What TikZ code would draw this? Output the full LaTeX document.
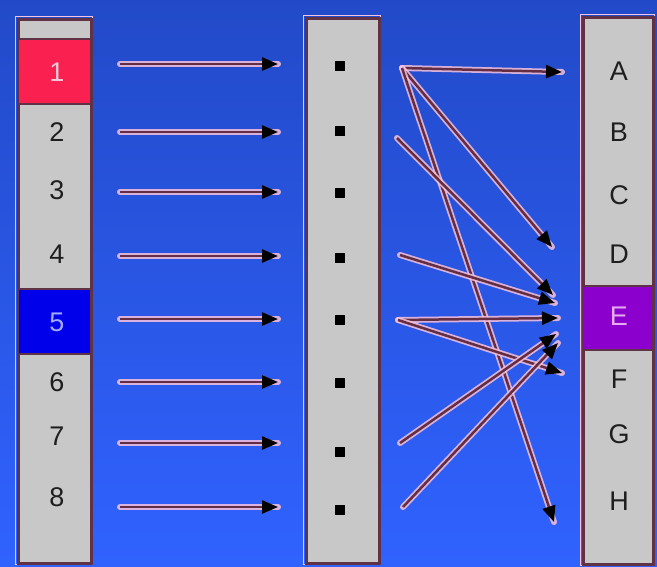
\documentclass[tikz,border=0pt]{standalone}
\usepackage{fontspec}
\setmainfont{Liberation Sans}
\usetikzlibrary{arrows.meta}
\definecolor{bgtop}{RGB}{34,74,200}
\definecolor{bgbot}{RGB}{48,98,255}
\definecolor{cellgray}{RGB}{200,200,200}
\definecolor{framecol}{RGB}{95,50,70}
\definecolor{halo}{RGB}{248,195,220}
\definecolor{redcell}{RGB}{250,32,80}
\definecolor{bluecell}{RGB}{0,0,235}
\definecolor{purplecell}{RGB}{140,0,205}
\definecolor{arrowline}{RGB}{100,45,65}
\definecolor{labdark}{RGB}{30,30,30}
\definecolor{labred}{RGB}{245,200,215}
\definecolor{labblue}{RGB}{160,170,255}
\definecolor{labpurple}{RGB}{230,170,240}
\newcommand\myarrow[2]{\draw[haloline] (#1) -- (#2); \draw[arr] (#1) -- (#2);}
\begin{document}
\begin{tikzpicture}[x=1pt,y=-1pt,
  colbox/.style={draw=framecol, line width=2.5pt, fill=cellgray, anchor=north west, inner sep=0pt},
  colhalo/.style={draw=halo, line width=1pt},
  cellbox/.style={draw=framecol, line width=2pt, anchor=north west, inner sep=0pt},
  lab/.style={font=\fontsize{27}{27}\selectfont, text=labdark, inner sep=0pt},
  dotsq/.style={fill=black, minimum size=10pt, inner sep=0pt},
  arr/.style={draw=arrowline, line width=2.5pt, -{Triangle[length=16pt,width=13pt,color=black]}},
  haloline/.style={draw=halo, line width=6pt, opacity=0.85, line cap=round}
]
\useasboundingbox (0,0) rectangle (657,566);
\shade[top color=bgtop, bottom color=bgbot] (0,0) rectangle (657,566);

% columns
\draw[colhalo] (15,16) rectangle (92,564);
\node[colbox, minimum width=73pt, minimum height=544pt] (L) at (17,18) {};
\draw[colhalo] (303,15) rectangle (380,564);
\node[colbox, minimum width=73pt, minimum height=545pt] (M) at (305,17) {};
\draw[colhalo] (580,14) rectangle (654,565);
\node[colbox, minimum width=70pt, minimum height=547pt] (R) at (582,16) {};

% highlighted cells
\node[cellbox, fill=redcell, minimum width=73pt, minimum height=65pt] (Lred) at (17,38) {};
\node[cellbox, fill=bluecell, minimum width=73pt, minimum height=65pt] (Lblue) at (17,288) {};
\node[cellbox, fill=purplecell, minimum width=70pt, minimum height=64pt] (Rpurple) at (582,285) {};

% left labels
\node[lab, text=labred] (n1) at (57,72) {1};
\node[lab] (n2) at (57,132) {2};
\node[lab] (n3) at (57,190) {3};
\node[lab] (n4) at (57,254) {4};
\node[lab, text=labblue] (n5) at (57,322) {5};
\node[lab] (n6) at (57,382) {6};
\node[lab] (n7) at (57,436) {7};
\node[lab] (n8) at (57,497) {8};

% right labels
\node[lab] (rA) at (619,71) {A};
\node[lab] (rB) at (619,132) {B};
\node[lab] (rC) at (619,195) {C};
\node[lab] (rD) at (619,254) {D};
\node[lab, text=labpurple] (rE) at (619,316) {E};
\node[lab] (rF) at (619,379) {F};
\node[lab] (rG) at (619,434) {G};
\node[lab] (rH) at (619,501) {H};

% middle dots
\node[dotsq] (d1) at (340,66) {};
\node[dotsq] (d2) at (340,131) {};
\node[dotsq] (d3) at (340,193) {};
\node[dotsq] (d4) at (340,258) {};
\node[dotsq] (d5) at (340,320) {};
\node[dotsq] (d6) at (340,383) {};
\node[dotsq] (d7) at (340,452) {};
\node[dotsq] (d8) at (340,510) {};

% left-to-middle arrows
\foreach \i/\y in {1/64,2/132,3/192,4/256,5/319,6/382,7/443,8/507}{
  \coordinate (p\i) at (120,\y);
  \coordinate (q\i) at (278,\y);
  \myarrow{p\i}{q\i}
}

% middle-to-right arrows
\coordinate (s1) at (402,68);
\coordinate (s2) at (397,138);
\coordinate (s4) at (400,255);
\coordinate (s5) at (398,320);
\coordinate (s7) at (400,443);
\coordinate (s8) at (403,507);
\coordinate (tA) at (562,72);
\coordinate (tD) at (552,247);
\coordinate (tH) at (554,522);
\coordinate (tE1) at (553,295);
\coordinate (tE2) at (555,303);
\coordinate (tE3) at (558,318);
\coordinate (tF) at (562,373);
\coordinate (tE4) at (556,334);
\coordinate (tE5) at (558,343);
\myarrow{s1}{tA}
\myarrow{s1}{tD}
\myarrow{s1}{tH}
\myarrow{s2}{tE1}
\myarrow{s4}{tE2}
\myarrow{s5}{tE3}
\myarrow{s5}{tF}
\myarrow{s7}{tE4}
\myarrow{s8}{tE5}
\end{tikzpicture}
\end{document}
